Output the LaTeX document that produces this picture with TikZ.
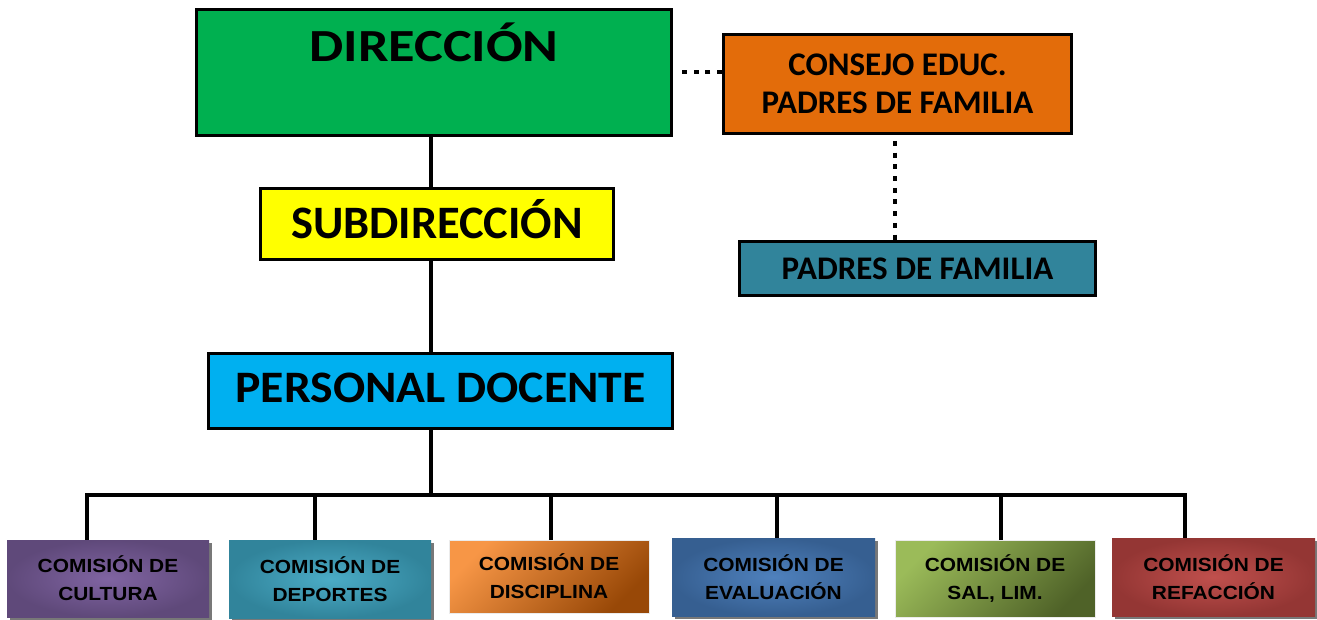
\documentclass[tikz,border=0pt]{standalone}
\usepackage{fontspec}
\setmainfont{Liberation Sans}
\newfontfamily\topfont{Carlito}
\newfontfamily\topfontwide[FakeStretch=1.18]{Carlito}
\newfontfamily\topfontmid[FakeStretch=1.06]{Carlito}
\newfontfamily\comfont[FakeStretch=1.1]{Liberation Sans}
\usetikzlibrary{shadows}
\definecolor{cdir}{HTML}{00B050}
\definecolor{ccons}{HTML}{E36C0A}
\definecolor{cpad}{HTML}{31849B}
\definecolor{csub}{HTML}{FFFF00}
\definecolor{cdoc}{HTML}{00B0F0}
\definecolor{purO}{HTML}{5F497A}
\definecolor{purI}{HTML}{8064A2}
\definecolor{teaO}{HTML}{31849B}
\definecolor{teaI}{HTML}{4BACC6}
\definecolor{oraA}{HTML}{F79646}
\definecolor{oraB}{HTML}{984807}
\definecolor{bluO}{HTML}{365F91}
\definecolor{bluI}{HTML}{4F81BD}
\definecolor{griA}{HTML}{9BBB59}
\definecolor{griB}{HTML}{4F6228}
\definecolor{redO}{HTML}{943634}
\definecolor{redI}{HTML}{C0504D}
\begin{document}
\begin{tikzpicture}[x=1pt,y=-1pt,
  topbox/.style={draw=black, line width=3pt, inner sep=0pt, align=center, font=\topfont\bfseries},
  conn/.style={draw=black, line width=3.5pt},
  dotline/.style={draw=black, line width=4.5pt, dash pattern=on 5pt off 6.7pt},
  combox/.style={inner sep=0pt, align=center, font=\comfont\bfseries\fontsize{19}{28}\selectfont},
  shad/.style={drop shadow={shadow xshift=3pt, shadow yshift=-3pt, opacity=0.75, fill=black!70}},
  radial/.style 2 args={shading=radial, inner color=#2, outer color=#1},
  diag/.style 2 args={shading=axis, top color=#1, bottom color=#2, shading angle=45, draw=black!8, line width=1pt}
]
\useasboundingbox (0,0) rectangle (1317,620);
\fill[white] (0,0) rectangle (1317,620);

\coordinate (spine) at (431,0);

% top boxes
\node[topbox, fill=cdir, minimum width=475pt, minimum height=126pt] (dir) at (434,72.5) {};
\node[font=\topfontwide\bfseries\fontsize{46}{46}\selectfont, inner sep=0pt, anchor=base] (dirtext) at (434,62) {DIRECCIÓN};
\node[topbox, fill=ccons, minimum width=348pt, minimum height=99pt, font=\topfont\bfseries\fontsize{33}{38}\selectfont] (cons) at (897.5,84) {CONSEJO EDUC.\\PADRES DE FAMILIA};
\node[topbox, fill=cpad, minimum width=356pt, minimum height=54pt, font=\topfont\bfseries\fontsize{33}{38}\selectfont] (pad) at (917.5,268.5) {PADRES DE FAMILIA};
\node[topbox, fill=csub, minimum width=353pt, minimum height=71pt, text height=30pt, text depth=0pt, font=\topfont\bfseries\fontsize{46.5}{46}\selectfont] (sub) at (437,224) {SUBDIRECCIÓN};
\node[topbox, fill=cdoc, minimum width=464pt, minimum height=75pt, text height=29pt, text depth=7pt, font=\topfontmid\bfseries\fontsize{45}{45}\selectfont] (doc) at (440.5,391) {PERSONAL DOCENTE};

% bottom boxes
\node[combox, shad, radial={purO}{purI}, minimum width=202pt, minimum height=77pt] (c1) at (108,578.5) {COMISIÓN DE\\CULTURA};
\node[combox, shad, radial={teaO}{teaI}, minimum width=202pt, minimum height=78pt] (c2) at (330,579) {COMISIÓN DE\\DEPORTES};
\node[combox, diag={oraA}{oraB}, minimum width=200pt, minimum height=73pt] (c3) at (549,576.5) {COMISIÓN DE\\DISCIPLINA};
\node[combox, shad, radial={bluO}{bluI}, minimum width=203pt, minimum height=78pt] (c4) at (773.5,577) {COMISIÓN DE\\EVALUACIÓN};
\node[combox, diag={griA}{griB}, minimum width=200pt, minimum height=77pt] (c5) at (995,578.5) {COMISIÓN DE\\SAL, LIM.};
\node[combox, shad, radial={redO}{redI}, minimum width=203pt, minimum height=78pt] (c6) at (1213.5,577) {COMISIÓN DE\\REFACCIÓN};

% connectors
\draw[conn] (dir.south -| spine) -- (sub.north -| spine);
\draw[conn] (sub.south -| spine) -- (doc.north -| spine);
\coordinate (bus) at (431,495);
\coordinate (d1) at (87,495);
\coordinate (d2) at (315,495);
\coordinate (d3) at (551,495);
\coordinate (d4) at (777,495);
\coordinate (d5) at (1001,495);
\coordinate (d6) at (1185,495);
\draw[conn] (doc.south -| spine) -- (bus);
\draw[conn, line join=miter] (c1.north -| d1) -- (d1) -- (d6) -- (c6.north -| d6);
\draw[conn] (d2) -- (c2.north -| d2);
\draw[conn] (d3) -- (c3.north -| d3);
\draw[conn] (d4) -- (c4.north -| d4);
\draw[conn] (d5) -- (c5.north -| d5);

% dotted links
\draw[dotline] (cons.west |- 0,72) -- ([xshift=5pt]dir.east |- 0,72);
\draw[dotline] ([yshift=-6pt]cons.south -| 895,0) -- (pad.north -| 895,0);
\end{tikzpicture}
\end{document}
